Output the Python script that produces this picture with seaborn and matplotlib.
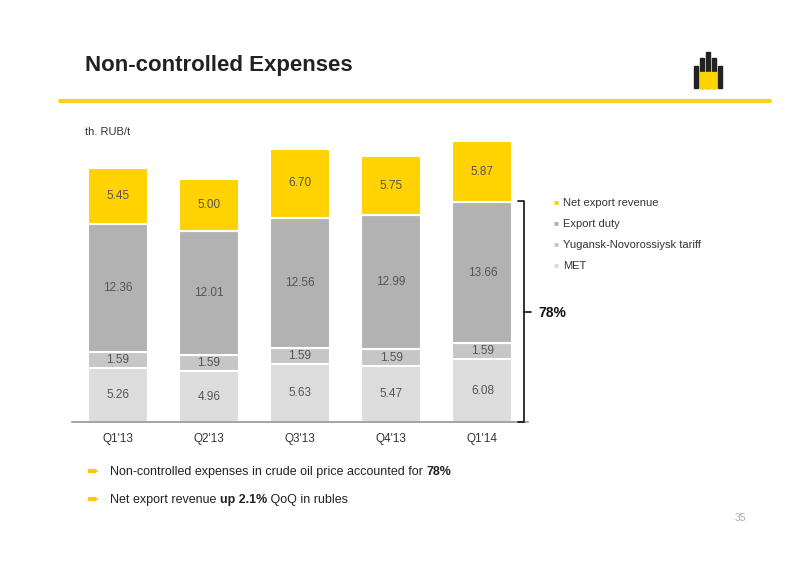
import matplotlib
matplotlib.use("Agg")
import matplotlib.pyplot as plt
import seaborn as sns
import numpy as np
import pandas as pd

quarters = ["Q1'13", "Q2'13", "Q3'13", "Q4'13", "Q1'14"]
met = [5.26, 4.96, 5.63, 5.47, 6.08]
tariff = [1.59, 1.59, 1.59, 1.59, 1.59]
duty = [12.36, 12.01, 12.56, 12.99, 13.66]
net = [5.45, 5.00, 6.70, 5.75, 5.87]
series_names = ["Net export revenue", "Export duty", "Yugansk-Novorossiysk tariff", "MET"]
colors = {"MET": "#dcdcdc", "Yugansk-Novorossiysk tariff": "#c6c6c6",
          "Export duty": "#b2b2b2", "Net export revenue": "#ffd200"}

sns.set_theme(style="white")
plt.rcParams['font.family'] = ['Liberation Sans', 'DejaVu Sans']

fig = plt.figure(figsize=(8, 5.66), dpi=100)
ax = fig.add_axes([0.09, 0.254, 0.57, 0.498])

layers = [("MET", met), ("Yugansk-Novorossiysk tariff", tariff), ("Export duty", duty), ("Net export revenue", net)]
bottom = np.zeros(len(quarters))
for name, vals in layers:
    df = pd.DataFrame({"q": quarters, "v": vals})
    sns.barplot(data=df, x="q", y="v", ax=ax, color=colors[name], bottom=bottom,
                width=0.66, edgecolor="white", linewidth=1.5, saturation=1)
    for i, v in enumerate(vals):
        ax.text(i, bottom[i] + v / 2, f"{v:.2f}", ha="center", va="center",
                fontsize=8.5, color="#555555")
    bottom = bottom + np.array(vals)

ax.set_xlim(-0.5, 4.5)
ax.set_ylim(0, 27.3)
ax.set_xlabel("")
ax.set_ylabel("")
ax.set_yticks([])
for s in ["top", "right", "left"]:
    ax.spines[s].set_visible(False)
ax.spines["bottom"].set_color("#999999")
ax.tick_params(axis="x", length=0, labelsize=8.5, colors="#333333", pad=8)

fig.text(85 / 800, 1 - 65 / 566, "Non-controlled Expenses", fontsize=16, fontweight="bold",
         color="#222222", va="center")
fig.add_artist(plt.Line2D([60 / 800, 770 / 800], [1 - 101 / 566] * 2, color="#f3d21a", lw=3))
fig.text(85 / 800, 1 - 132 / 566, "th. RUB/t", fontsize=8, color="#333333", va="center")

for k, h in enumerate([22, 30, 36, 30, 22]):
    fig.add_artist(plt.Rectangle(((694 + k * 6) / 800, (566 - 88) / 566), 4 / 800, h / 566,
                                 color="#222222"))
fig.add_artist(plt.Rectangle((700 / 800, (566 - 88) / 566), 16 / 800, 16 / 566, color="#ffd200"))

for k, name in enumerate(series_names):
    y = 1 - (203 + k * 21) / 566
    fig.text(554 / 800, y, "■", fontsize=6, color=colors[name], va="center")
    fig.text(563 / 800, y, name, fontsize=8, color="#333333", va="center")

bx = 524 / 800
fig.add_artist(plt.Line2D([518 / 800, bx, bx, 518 / 800],
                          [1 - 201 / 566, 1 - 201 / 566, 1 - 422 / 566, 1 - 422 / 566], color="#111111", lw=1.2))
fig.add_artist(plt.Line2D([bx, 531 / 800], [1 - 312 / 566] * 2, color="#111111", lw=1.2))
fig.text(538 / 800, 1 - 313 / 566, "78%", fontsize=10, fontweight="bold", color="#111111", va="center")

for y, parts in [(472, [("Non-controlled expenses in crude oil price accounted for ", "normal"), ("78%", "bold")]),
                 (500, [("Net export revenue ", "normal"), ("up 2.1%", "bold"), (" QoQ in rubles", "normal")])]:
    fig.text(86 / 800, 1 - y / 566, "➨", fontsize=11, color="#ffc800", va="center")
    x = 110 / 800
    for txt, w in parts:
        tt = fig.text(x, 1 - y / 566, txt, fontsize=9, fontweight=w, color="#222222", va="center")
        fig.canvas.draw()
        bb = tt.get_window_extent()
        x = bb.x1 / fig.bbox.width

fig.text(735 / 800, 1 - 518 / 566, "35", fontsize=7.5, color="#aaaaaa", va="center")

fig.savefig("out.png", dpi=100)
